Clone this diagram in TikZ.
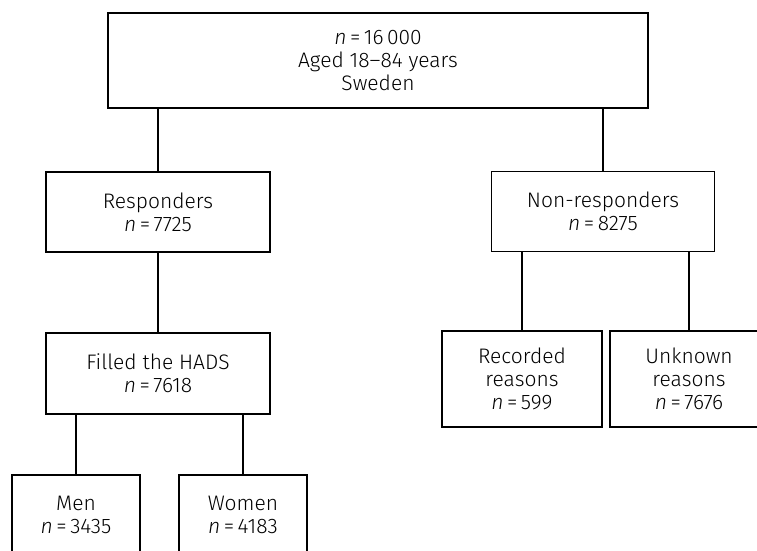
\documentclass[tikz,border=0pt]{standalone}
\usepackage{fontspec}
\setmainfont{Fira Sans Light}
\newcommand{\nval}[1]{{\itshape n}\,=\,#1}

\begin{document}
\begin{tikzpicture}[x=1pt, y=-1pt, line width=1.4pt]
	\tikzstyle{every node} = [draw, rectangle, align=center, inner sep=0pt,
		font=\fontsize{21}{23}\selectfont]
	\clip (0,0) rectangle (757,550);
	\fill[white] (0,0) rectangle (757,550);
	\node[minimum width=540, minimum height=95] (total) at (378, 60.5) {\nval{16\,000}\\Aged 18--84 years\\Sweden};
	\node[minimum width=224, minimum height=80] (resp) at (158, 212) {Responders\\\nval{7725}};
	\node[minimum width=223, minimum height=80] (nonresp) at (603, 211.5) {Non-responders\\\nval{8275}};
	\node[minimum width=224, minimum height=81] (hads) at (158, 373.5) {Filled the HADS\\\nval{7618}};
	\node[minimum width=128, minimum height=80] (men) at (76, 515) {Men\\\nval{3435}};
	\node[minimum width=128, minimum height=80] (women) at (243, 515) {Women\\\nval{4183}};
	\node[minimum width=160, minimum height=96] (rec) at (522, 379) {Recorded\\reasons\\\nval{599}};
	\node[minimum width=158, minimum height=96] (unk) at (689, 379) {Unknown\\reasons\\\nval{7676}};
	\draw [-] (resp.north)--(resp.north |- total.south);
	\draw [-] (nonresp.north)--(nonresp.north |- total.south);
	\draw [-] (hads.north)--(resp.south);
	\draw [-] (rec.north)--(rec.north |- nonresp.south);
	\draw [-] (unk.north)--(unk.north |- nonresp.south);
	\draw [-] (men.north)--(men.north |- hads.south);
	\draw [-] (women.north)--(women.north |- hads.south);
\end{tikzpicture}
\end{document}
